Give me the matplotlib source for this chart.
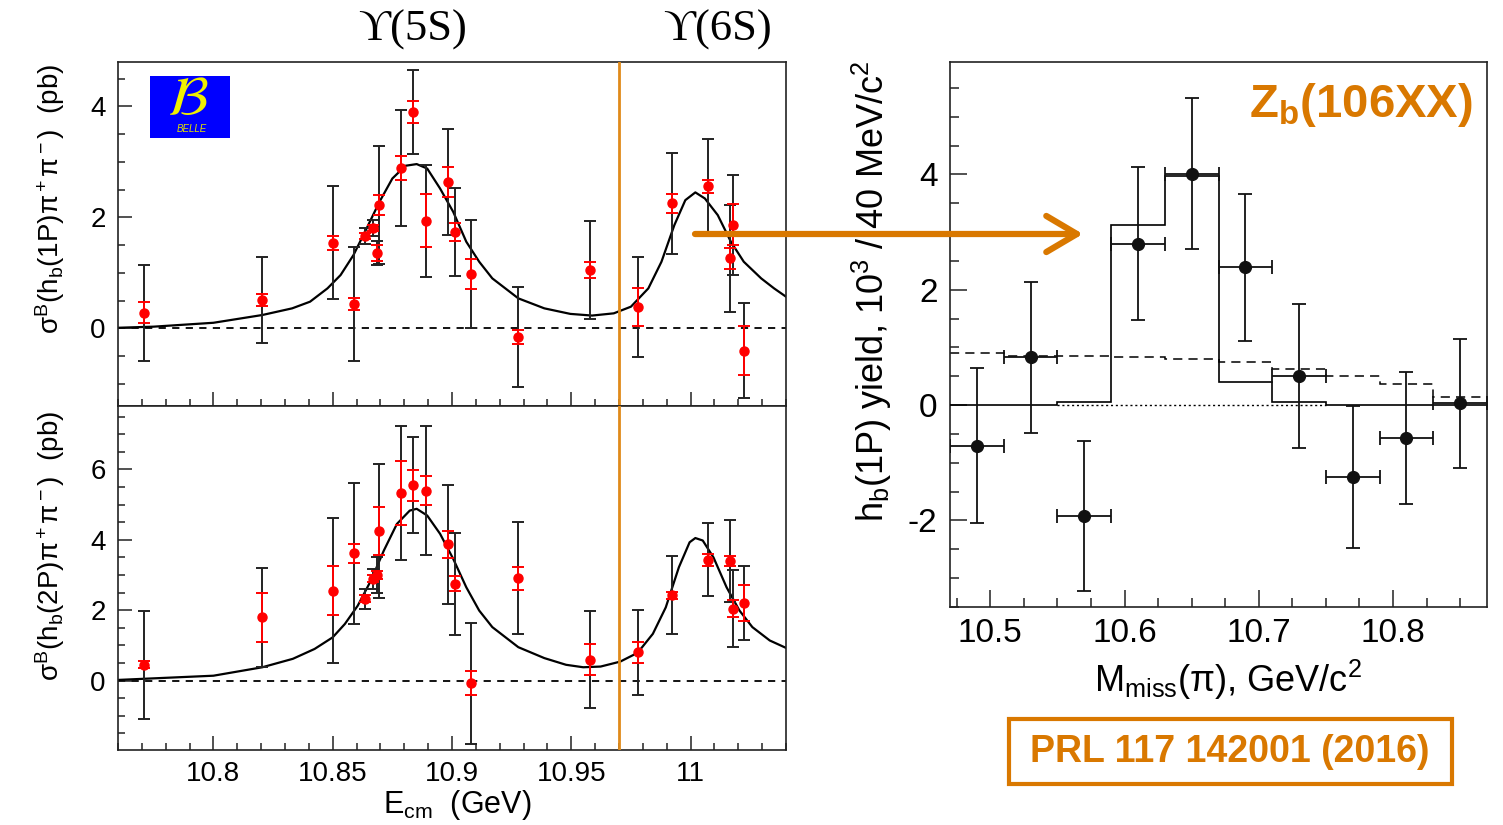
import matplotlib
matplotlib.use("Agg")
import matplotlib.pyplot as plt
from matplotlib.patches import Rectangle, FancyArrowPatch, ArrowStyle
from matplotlib.ticker import MultipleLocator

W, H = 1503, 825
plt.rcParams.update({
    "font.family": ["Liberation Sans", "DejaVu Sans"],
    "mathtext.fontset": "custom",
    "mathtext.rm": "Liberation Sans",
    "mathtext.it": "Liberation Sans:italic",
    "mathtext.bf": "Liberation Sans:bold",
    "axes.unicode_minus": False,
})

ORANGE = "#D97800"
VLINE = "#E08A1A"

# ---------------- data: left panels (sigma vs E_cm) ----------------
energy = [10.771, 10.8205, 10.850, 10.859, 10.8634, 10.8667, 10.8685, 10.8696,
          10.8787, 10.8838, 10.8892, 10.8985, 10.9012, 10.9078, 10.9278, 10.9578,
          10.9778, 10.9921, 11.0072, 11.0165, 11.0179, 11.0225]

xs_1p = [0.28, 0.51, 1.54, 0.44, 1.66, 1.81, 1.36, 2.22, 2.89, 3.90, 1.94,
         2.64, 1.74, 0.98, -0.16, 1.05, 0.38, 2.25, 2.56, 1.26, 1.87, -0.40]
stat_1p = [0.19, 0.10, 0.13, 0.11, 0.05, 0.05, 0.15, 0.18, 0.22, 0.20, 0.48,
           0.27, 0.16, 0.27, 0.13, 0.15, 0.34, 0.17, 0.12, 0.19, 0.37, 0.45]
tot_1p = [0.86, 0.77, 1.02, 1.03, 0.14, 0.15, 0.21, 1.06, 1.04, 0.76, 1.01,
          0.96, 0.79, 0.97, 0.90, 0.89, 0.90, 0.91, 0.86, 0.96, 0.90, 0.85]

xs_2p = [0.45, 1.80, 2.55, 3.62, 2.32, 2.89, 3.00, 4.25, 5.33, 5.55, 5.40,
         3.87, 2.75, -0.07, 2.91, 0.60, 0.80, 2.43, 3.44, 3.40, 2.04, 2.20]
stat_2p = [0.10, 0.69, 0.70, 0.27, 0.10, 0.10, 0.10, 0.67, 0.90, 0.44, 0.40,
           0.38, 0.21, 0.33, 0.33, 0.45, 0.30, 0.10, 0.17, 0.15, 0.24, 0.52]
tot_2p = [1.53, 1.41, 2.06, 2.00, 0.28, 0.28, 0.50, 1.90, 1.89, 1.37, 1.84,
          1.70, 1.45, 1.72, 1.59, 1.39, 1.22, 1.11, 1.03, 1.16, 1.09, 1.05]

# fit curves
fit_e_1p = [10.760, 10.775, 10.800, 10.8205, 10.833, 10.8405, 10.8478, 10.8533,
            10.8587, 10.8642, 10.8696, 10.875, 10.8805, 10.8852, 10.8896, 10.895,
            10.9005, 10.906, 10.9114, 10.9169, 10.9278, 10.9387, 10.9496, 10.9587,
            10.9678, 10.975, 10.9823, 10.9878, 10.9932, 10.9978, 11.002, 11.006,
            11.0114, 11.0169, 11.0223, 11.0296, 11.035, 11.040]
fit_1p = [0.01, 0.03, 0.10, 0.24, 0.36, 0.48, 0.72, 0.96,
          1.32, 1.80, 2.28, 2.70, 2.93, 2.96, 2.88, 2.52,
          2.10, 1.56, 1.20, 0.90, 0.54, 0.36, 0.26, 0.23,
          0.27, 0.39, 0.72, 1.20, 1.86, 2.31, 2.45, 2.34,
          2.04, 1.56, 1.20, 0.90, 0.72, 0.57]

fit_e_2p = [10.760, 10.800, 10.8205, 10.8333, 10.8424, 10.850, 10.8551, 10.8605,
            10.866, 10.8714, 10.8769, 10.8823, 10.8852, 10.8896, 10.895, 10.9005,
            10.906, 10.9114, 10.9169, 10.9278, 10.9387, 10.9478, 10.955, 10.9623,
            10.9705, 10.9778, 10.9842, 10.9896, 10.9951, 10.9996, 11.002, 11.0051,
            11.0096, 11.0151, 11.0205, 11.0259, 11.0332, 11.040]
fit_2p = [0.02, 0.14, 0.38, 0.62, 0.90, 1.23, 1.61, 2.13,
          2.84, 3.69, 4.45, 4.83, 4.88, 4.69, 4.17, 3.46,
          2.65, 1.99, 1.52, 0.95, 0.64, 0.45, 0.38, 0.40,
          0.54, 0.79, 1.33, 2.08, 3.22, 3.93, 4.05, 3.98,
          3.50, 2.65, 1.99, 1.52, 1.14, 0.93]

e_threshold = 10.97

# ---------------- data: right panel (h_b(1P) yield vs M_miss) ----------------
m_center = [10.49, 10.53, 10.57, 10.61, 10.65, 10.69, 10.73, 10.77, 10.81, 10.85]
yield_1p = [-0.70, 0.83, -1.93, 2.80, 4.01, 2.39, 0.51, -1.25, -0.57, 0.03]
yield_err = [1.35, 1.31, 1.30, 1.33, 1.31, 1.27, 1.25, 1.23, 1.15, 1.12]
m_halfbin = [0.02] * 10
m_edges = [10.47, 10.51, 10.55, 10.59, 10.63, 10.67, 10.71, 10.75, 10.79, 10.83, 10.87]
hist_fit = [0.0, 0.0, 0.05, 3.12, 3.97, 0.40, 0.05, 0.0, 0.0, 0.0]
hist_bkg = [0.91, 0.86, 0.85, 0.83, 0.80, 0.74, 0.63, 0.51, 0.37, 0.14]
dot_edges = [10.55, 10.59, 10.63, 10.67, 10.71, 10.75]
hist_dot = [0.01, 0.01, 0.01, 0.01, 0.01]


def fx(x):
    return x / W


def fy(y):
    return 1 - y / H


fig = plt.figure(figsize=(W / 100, H / 100), dpi=100)

ax1 = fig.add_axes([fx(118), fy(406), (786 - 118) / W, (406 - 62) / H])
ax2 = fig.add_axes([fx(118), fy(750), (786 - 118) / W, (750 - 406) / H], sharex=ax1)
ax3 = fig.add_axes([fx(950), fy(607), (1487 - 950) / W, (607 - 62) / H])

for ax, xs, st, tt, fe, fv in [(ax1, xs_1p, stat_1p, tot_1p, fit_e_1p, fit_1p),
                                (ax2, xs_2p, stat_2p, tot_2p, fit_e_2p, fit_2p)]:
    ax.axhline(0, color="black", lw=1.3, ls=(0, (4, 3.5)), zorder=1)
    ax.plot(fe, fv, color="black", lw=1.6, zorder=2, solid_joinstyle="round")
    ax.errorbar(energy, xs, yerr=tt, fmt="none", ecolor="#222222",
                elinewidth=1.4, capsize=4, capthick=1.4, zorder=3)
    ax.errorbar(energy, xs, yerr=st, fmt="o", color="#FF0000", ms=6.5,
                ecolor="#FF0000", elinewidth=1.4, capsize=4, capthick=1.4, zorder=4)
    ax.axvline(e_threshold, color=VLINE, lw=2.0, zorder=5)
    ax.set_xlim(10.76, 11.04)
    ax.xaxis.set_major_locator(MultipleLocator(0.05))
    ax.xaxis.set_minor_locator(MultipleLocator(0.01))
    ax.yaxis.set_minor_locator(MultipleLocator(0.5))
    ax.tick_params(which="both", direction="in", top=False, right=False,
                   labelsize=20, width=1.1, color="#222222")
    ax.tick_params(which="major", length=10)
    ax.tick_params(which="minor", length=5)
    ax.tick_params(axis="y", pad=9)
    ax.tick_params(axis="x", pad=8)
    for s in ax.spines.values():
        s.set_linewidth(1.2)
        s.set_color("#222222")

ax1.set_ylim(-1.4, 4.8)
ax1.yaxis.set_major_locator(MultipleLocator(2))
ax1.tick_params(labelbottom=False)
ax2.set_ylim(-1.97, 7.8)
ax2.set_yticks([0, 2, 4, 6])
ax2.set_xticks([10.8, 10.85, 10.9, 10.95, 11.0])
ax2.set_xticklabels(["10.8", "10.85", "10.9", "10.95", "11"])

# right panel
ax3.stairs(hist_bkg, m_edges, color="black", lw=1.1, ls=(0, (6, 4)), baseline=None, zorder=2)
ax3.stairs(hist_dot, dot_edges, color="black", lw=1.0, ls=(0, (1.5, 2)), baseline=None, zorder=2)
ax3.stairs(hist_fit, m_edges, color="black", lw=1.2, baseline=None, zorder=3)
ax3.errorbar(m_center, yield_1p, xerr=m_halfbin, yerr=yield_err, fmt="o", color="#111111",
             ms=8.5, elinewidth=1.3, capsize=5, capthick=1.3, zorder=4)
ax3.set_xlim(10.47, 10.87)
ax3.set_ylim(-3.5, 5.95)
ax3.xaxis.set_minor_locator(MultipleLocator(0.025))
ax3.set_yticks([-2, 0, 2, 4])
ax3.yaxis.set_minor_locator(MultipleLocator(0.5))
ax3.set_xticks([10.5, 10.6, 10.7, 10.8])
ax3.set_xticklabels(["10.5", "10.6", "10.7", "10.8"])
ax3.tick_params(which="both", direction="in", top=False, right=False,
                labelsize=24, width=1.1, color="#222222")
ax3.tick_params(which="major", length=12)
ax3.tick_params(which="minor", length=6.5)
ax3.tick_params(axis="y", pad=9)
ax3.tick_params(axis="x", pad=8)
for s in ax3.spines.values():
    s.set_linewidth(1.2)
    s.set_color("#222222")

# axis titles
fig.text(fx(50), fy(64), "σ$^{\\rm B}$(h$_{\\rm b}$(1P)π$^{\\rm +}$π$^{\\rm -}$)  (pb)",
         rotation=90, ha="center", va="top", fontsize=20)
fig.text(fx(50), fy(411), "σ$^{\\rm B}$(h$_{\\rm b}$(2P)π$^{\\rm +}$π$^{\\rm -}$)  (pb)",
         rotation=90, ha="center", va="top", fontsize=20)
fig.text(fx(457), fy(805), "E$_{\\rm cm}$  (GeV)", ha="center", va="center", fontsize=22)
fig.text(fx(872), fy(60), "h$_{\\rm b}$(1P) yield, 10$^{\\rm 3}$ / 40 MeV/c$^{\\rm 2}$",
         rotation=90, ha="center", va="top", fontsize=26)
fig.text(fx(1228), fy(680), "M$_{\\rm miss}$(π), GeV/c$^{\\rm 2}$", ha="center", va="center",
         fontsize=26)

# Upsilon labels
fig.text(fx(413), fy(30), "ϒ(5S)", ha="center", va="center", fontsize=32,
         family=["Liberation Serif", "DejaVu Serif"])
fig.text(fx(718), fy(30), "ϒ(6S)", ha="center", va="center", fontsize=32,
         family=["Liberation Serif", "DejaVu Serif"])

# Belle logo
fig.add_artist(Rectangle((fx(150), fy(138)), 80 / W, 62 / H, transform=fig.transFigure,
                         facecolor="#0000FF", edgecolor="none", zorder=6))
fig.text(fx(188), fy(101), "$\\mathcal{B}$", ha="center", va="center", fontsize=40,
         color="#F0F000", zorder=7, math_fontfamily="dejavusans")
fig.text(fx(192), fy(129), "BELLE", ha="center", va="center", fontsize=7,
         color="#E0E000", style="italic", zorder=7)

# Zb label
fig.text(fx(1473), fy(117), "Z$_\\mathbf{b}$(106XX)", ha="right", va="baseline",
         fontsize=34, fontweight="bold", color=ORANGE)

# reference box
fig.add_artist(Rectangle((fx(1009), fy(784)), (1452 - 1009) / W, (784 - 719) / H,
                         transform=fig.transFigure, facecolor="white",
                         edgecolor=ORANGE, lw=3.0, zorder=6))
fig.text(fx(1230), fy(752), "PRL 117 142001 (2016)", ha="center", va="center",
         fontsize=27, fontweight="bold", color=ORANGE, zorder=7)

# arrow
arrow = FancyArrowPatch((fx(695), fy(234)), (fx(1083), fy(234)), transform=fig.transFigure,
                        arrowstyle=ArrowStyle("->", head_length=1.1, head_width=0.65),
                        mutation_scale=20, lw=4.5, color=ORANGE, zorder=8,
                        shrinkA=0, shrinkB=0, capstyle="round", joinstyle="round")
fig.add_artist(arrow)

fig.savefig("out.png", dpi=100)
